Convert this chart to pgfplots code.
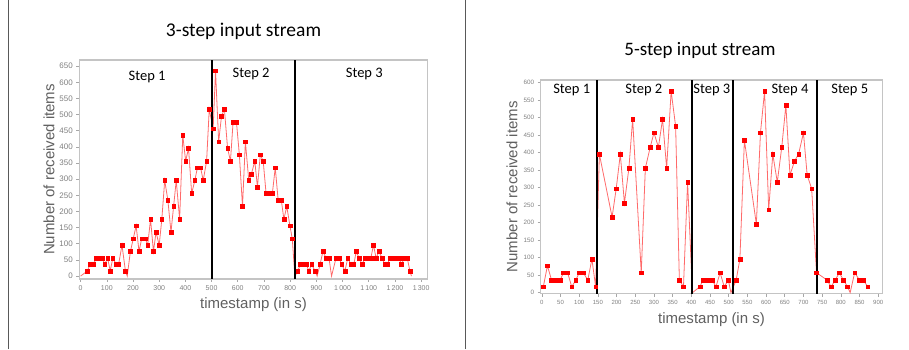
\documentclass[border=0pt]{standalone}
\usepackage{pgfplots}
\pgfplotsset{compat=1.18}
\usepackage{pgfplotstable}
\usepackage{fontspec}
\setmainfont{Liberation Sans}
\newfontfamily\calibri{Carlito}
\definecolor{framec}{HTML}{C4C4C4}
\definecolor{ticklab}{HTML}{808080}
\definecolor{lbl}{HTML}{606060}
\definecolor{lnc}{HTML}{FF6A6A}
\definecolor{mkc}{HTML}{FF0000}

\pgfplotstableread{
t v
0 0
26 16
36 36
49 36
60 56
73 56
83 56
92 36
103 56
113 16
123 56
136 36
145 36
158 96
171 16
178 0
190 76
201 116
212 156
223 76
233 116
247 116
256 96
267 176
278 76
288 136
300 96
310 176
321 296
333 236
345 136
355 216
365 296
378 176
390 436
401 356
412 396
424 256
436 296
446 336
458 336
468 296
481 356
491 516
506 456
515 636
527 416
538 496
549 516
561 396
572 356
582 476
595 476
606 376
618 216
629 416
642 296
652 316
665 356
675 276
686 376
697 356
708 256
720 256
732 256
743 336
754 236
766 236
776 176
787 216
799 156
808 116
818 0
829 16
839 36
851 36
862 36
871 16
882 36
895 16
903 0
914 36
925 76
937 56
948 56
958 0
975 56
986 56
997 36
1009 16
1020 56
1032 36
1043 36
1052 76
1063 56
1075 36
1085 56
1096 56
1108 56
1118 96
1128 56
1139 76
1151 56
1161 36
1171 36
1181 56
1192 56
1204 56
1215 56
1225 36
1235 56
1247 56
1257 16
1263 0
}\leftdata

\pgfplotstableread{
t v
4 17
15 77
26 36
36 36
43 36
49 36
58 57
69 57
80 17
91 36
100 57
111 57
123 36
134 96
144 17
154 396
188 216
199 297
210 396
221 256
233 356
243 496
266 57
277 356
290 416
300 457
312 416
323 496
334 356
346 576
358 476
368 36
379 17
390 316
403 0
423 17
431 36
443 36
456 36
466 17
477 57
488 17
499 36
506 0
520 36
530 96
542 436
574 196
585 457
596 576
607 237
618 396
630 316
642 416
653 536
664 336
676 376
687 396
700 457
710 336
722 297
735 57
763 36
774 17
785 36
796 57
807 36
818 17
825 0
837 57
850 36
860 36
872 17
}\rightdata

\pgfplotsset{
  panel/.style={
    scale only axis,
    axis line style={framec, line width=1.1pt},
    tick style={framec!85!black, line width=0.6pt},
    major tick length=3pt,
    tick align=outside,
    xtick pos=lower, ytick pos=left,
    ticklabel style={text=ticklab},
    /pgf/number format/assume math mode=true,
    /pgf/number format/1000 sep={\,},
    label style={text=lbl, font=\fontsize{15}{17}\selectfont},
  },
  serline/.style={lnc, line width=0.8pt, no marks},
  sermk/.style={only marks, mark=square*, mark size=1.85pt, mkc, restrict y to domain=1:1000},
}
\tikzset{
  sepline/.style={black, line width=2pt},
  steplab/.style={font=\calibri\fontsize{14.5}{16}\selectfont},
}

\begin{document}
\begin{tikzpicture}
\useasboundingbox (0pt,0pt) rectangle (909pt,349pt);
\draw[black!65, line width=0.8pt] (8pt,0pt) -- (8pt,349pt);
\draw[black!65, line width=0.8pt] (465pt,0pt) -- (465pt,349pt);
\node[font=\calibri\fontsize{19.5}{22}\selectfont] at (243.5pt,318pt) {3-step input stream};
\node[font=\calibri\fontsize{19}{22}\selectfont] at (700pt,299pt) {5-step input stream};

\begin{axis}[panel,
  at={(79.3pt,70pt)}, anchor=south west,
  width=348.4pt, height=219pt,
  xmin=-5, xmax=1325, ymin=-9, ymax=669,
  xtick={0,100,...,1300}, ytick={0,50,...,650},
  xticklabel style={font=\fontsize{7}{8}\selectfont},
  yticklabel style={font=\fontsize{8}{9}\selectfont},
  xlabel={timestamp (in s)}, ylabel={Number of received items},
  xlabel style={at={(axis description cs:0.5,-0.115)}, anchor=center},
  ylabel style={at={(axis description cs:-0.087,0.5)}, anchor=center},
]
\addplot[serline] table[x=t,y=v] {\leftdata};
\addplot[sermk] table[x=t,y=v] {\leftdata};
\draw[sepline] (axis cs:500,-9) -- (axis cs:500,669);
\draw[sepline] (axis cs:818,-9) -- (axis cs:818,669);
\node[steplab] at (axis cs:254,616) {Step 1};
\node[steplab] at (axis cs:651,625) {Step 2};
\node[steplab] at (axis cs:1083,625) {Step 3};
\end{axis}

\begin{axis}[panel,
  at={(540.7pt,55.3pt)}, anchor=south west,
  width=341.6pt, height=213.7pt,
  xmin=-3, xmax=911, ymin=-3, ymax=608,
  xtick={0,50,...,900}, ytick={0,50,...,600},
  xticklabel style={font=\fontsize{6}{7}\selectfont},
  yticklabel style={font=\fontsize{6.3}{7}\selectfont},
  xlabel={timestamp (in s)}, ylabel={Number of received items},
  xlabel style={at={(axis description cs:0.5,-0.119)}, anchor=center},
  ylabel style={at={(axis description cs:-0.084,0.5)}, anchor=center},
]
\addplot[serline] table[x=t,y=v] {\rightdata};
\addplot[sermk] table[x=t,y=v] {\rightdata};
\draw[sepline] (axis cs:147,-3) -- (axis cs:147,608);
\draw[sepline] (axis cs:402,-3) -- (axis cs:402,608);
\draw[sepline] (axis cs:512,-3) -- (axis cs:512,608);
\draw[sepline] (axis cs:735,-3) -- (axis cs:735,608);
\node[steplab] at (axis cs:80,579) {Step 1};
\node[steplab] at (axis cs:273,579) {Step 2};
\node[steplab] at (axis cs:455,579) {Step 3};
\node[steplab] at (axis cs:664,579) {Step 4};
\node[steplab] at (axis cs:824,579) {Step 5};
\end{axis}
\end{tikzpicture}
\end{document}
